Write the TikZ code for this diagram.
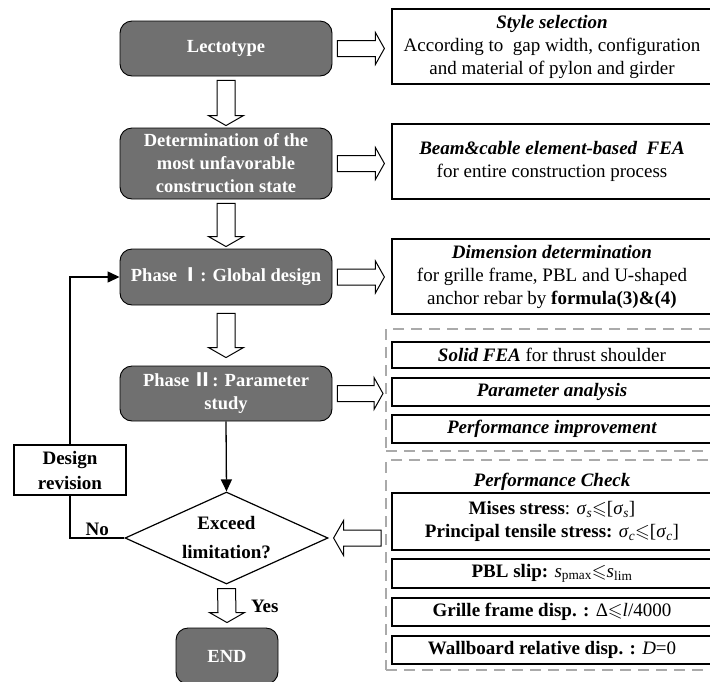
\documentclass[tikz,border=0pt]{standalone}
\usepackage{amssymb}
\usepackage{fontspec}
\setmainfont{Liberation Serif}
\newfontfamily\cjk{Noto Sans CJK SC}
\usetikzlibrary{shapes.geometric,calc,arrows.meta}
\definecolor{gfill}{RGB}{112,112,112}
\definecolor{dgray}{RGB}{170,170,170}
\newcommand\harrowdown[2]{\draw[hol] ($(#1)+(-9,0)$) -- ($(#2)+(-9,10)$) -- ($(#2)+(-17.5,10)$) -- (#2) -- ($(#2)+(17.5,10)$) -- ($(#2)+(9,10)$) -- ($(#1)+(9,0)$) -- cycle;}
\newcommand\harrowright[2]{\draw[hol] ($(#1)+(0,8)$) -- ($(#2)+(-9,8)$) -- ($(#2)+(-9,16)$) -- (#2) -- ($(#2)+(-9,-16)$) -- ($(#2)+(-9,-8)$) -- ($(#1)+(0,-8)$) -- cycle;}
\newcommand\harrowleft[2]{\draw[hol] ($(#1)+(0,8)$) -- ($(#2)+(10,8)$) -- ($(#2)+(10,17.5)$) -- (#2) -- ($(#2)+(10,-17.5)$) -- ($(#2)+(10,-8)$) -- ($(#1)+(0,-8)$) -- cycle;}
\begin{document}
\begin{tikzpicture}[x=1pt,y=1pt,
  gnode/.style={draw=black, line width=0.9pt, fill=gfill, rounded corners=12pt, text=white,
    font=\bfseries\fontsize{18.5}{23}\selectfont, align=center, minimum width=212pt, inner sep=0pt},
  rbox/.style={draw=black, line width=1.2pt, align=center, font=\fontsize{19}{23}\selectfont,
    inner sep=0pt, minimum width=320pt},
  dgroup/.style={draw=dgray, line width=2pt, dash pattern=on 11pt off 7pt, minimum width=344pt, inner sep=0pt},
  hol/.style={draw=black, line width=1pt, fill=white},
  conn/.style={draw=black, line width=1.3pt},
  tip/.style={-{Triangle[length=12pt,width=11pt]}},
  lbl/.style={font=\bfseries\fontsize{19}{23}\selectfont, align=center, inner sep=1pt}
]
\useasboundingbox (0,0) rectangle (710,-681);
\clip (0,0) rectangle (710,-681);

% left column
\node[gnode, minimum height=55pt] (lect) at (226,-48.5) {Lectotype};
\node[gnode, minimum height=71pt] (det) at (226,-163.5) {Determination of the\\most unfavorable\\construction state};
\node[gnode, minimum height=56pt] (ph1) at (226,-277) {Phase {\cjk Ⅰ}: Global design};
\node[gnode, minimum height=55pt] (ph2) at (226,-393.5) {Phase {\cjk Ⅱ}: Parameter\\study};
\node[draw=black, line width=1.2pt, diamond, minimum width=203pt, minimum height=92pt, aspect=2.2, inner sep=0pt,
  font=\bfseries\fontsize{19}{29}\selectfont, align=center] (dec) at (226.5,-538) {Exceed\\limitation?};
\node[gnode, minimum width=102pt, minimum height=56pt] (endn) at (227,-656) {END};
\node[draw=black, line width=1.2pt, minimum width=112pt, minimum height=50pt, inner sep=0pt,
  font=\bfseries\fontsize{19}{25}\selectfont, align=center] (rev) at (70,-470) {Design\\revision};

% right column
\node[rbox, minimum height=75pt] (styleb) at (552,-46.5) {\textbf{\textit{Style selection}}\\According to~ gap width, configuration\\and material of pylon and girder};
\node[rbox, minimum height=75pt] (beamb) at (552,-161.5) {\textbf{\textit{Beam\&cable element-based~ FEA}}\\for entire construction process};
\node[rbox, minimum height=75pt] (dimb) at (552,-276.5) {\textbf{\textit{Dimension determination}}\\for grille frame, PBL and U-shaped\\anchor rebar by \textbf{formula(3)\&(4)}};

\node[dgroup, minimum height=122pt] (grp1) at (558,-390) {};
\node[rbox, minimum height=26pt] (solidb) at (552,-355) {\textbf{\textit{Solid FEA}} for thrust shoulder};
\node[rbox, minimum height=28pt] (parb) at (552,-392) {\textbf{\textit{Parameter analysis}}};
\node[rbox, minimum height=28pt] (perfb) at (552,-429) {\textbf{\textit{Performance improvement}}};

\node[dgroup, minimum height=210pt] (grp2) at (558,-565) {};
\node[lbl] (pc) at (552,-482) {\textit{Performance Check}};
\node[rbox, minimum height=57pt] (misesb) at (552,-521.5) {\textbf{Mises stress}: \textit{σ}\textsubscript{\textit{s}}$\leqslant$[\textit{σ}\textsubscript{\textit{s}}]\\\textbf{Principal tensile stress:} \textit{σ}\textsubscript{\textit{c}}$\leqslant$[\textit{σ}\textsubscript{\textit{c}}]};
\node[rbox, minimum height=29pt] (pblb) at (552,-573.5) {\textbf{PBL slip:} \textit{s}\textsubscript{pmax}$\leqslant$\textit{s}\textsubscript{lim}};
\node[rbox, minimum height=28pt] (grilb) at (552,-612) {\textbf{Grille frame disp. :} Δ$\leqslant$\textit{l}/4000};
\node[rbox, minimum height=28pt] (wallb) at (552,-650) {\textbf{Wallboard relative disp. :} \textit{D}=0};

% hollow arrows down
\harrowdown{$(lect.south)+(0,-4)$}{$(det.north)+(0,2)$}
\harrowdown{$(det.south)+(0,-4)$}{$(ph1.north)+(0,2)$}
\harrowdown{$(ph1.south)+(0,-8)$}{$(ph2.north)+(0,8)$}
\harrowdown{$(dec.south)+(0,-4)$}{$(endn.north)+(0,5)$}
% hollow arrows right
\harrowright{$(lect.east)+(5,0)$}{$(lect.east -| styleb.west)+(-7,0)$}
\harrowright{$(det.east)+(5,0)$}{$(det.east -| beamb.west)+(-7,0)$}
\harrowright{$(ph1.east)+(5,0)$}{$(ph1.east -| dimb.west)+(-7,0)$}
\harrowright{$(ph2.east)+(5,0)$}{$(ph2.east -| grp1.west)+(-2,0)$}
% hollow arrow left into decision
\harrowleft{$(dec.east -| grp2.west)+(-4,0)$}{$(dec.east)+(5,0)$}

% solid connectors
\draw[conn, tip] (ph2.south) -- (dec.north);
\draw[conn, tip] (rev.north) |- (ph1.west);
\draw[conn] (dec.west) -| (rev.south) node[lbl, pos=0.25, above=1pt] {No};
\node[lbl] (yes) at ($(dec.south)!0.5!(endn.north)+(38,0)$) {Yes};
\end{tikzpicture}
\end{document}
